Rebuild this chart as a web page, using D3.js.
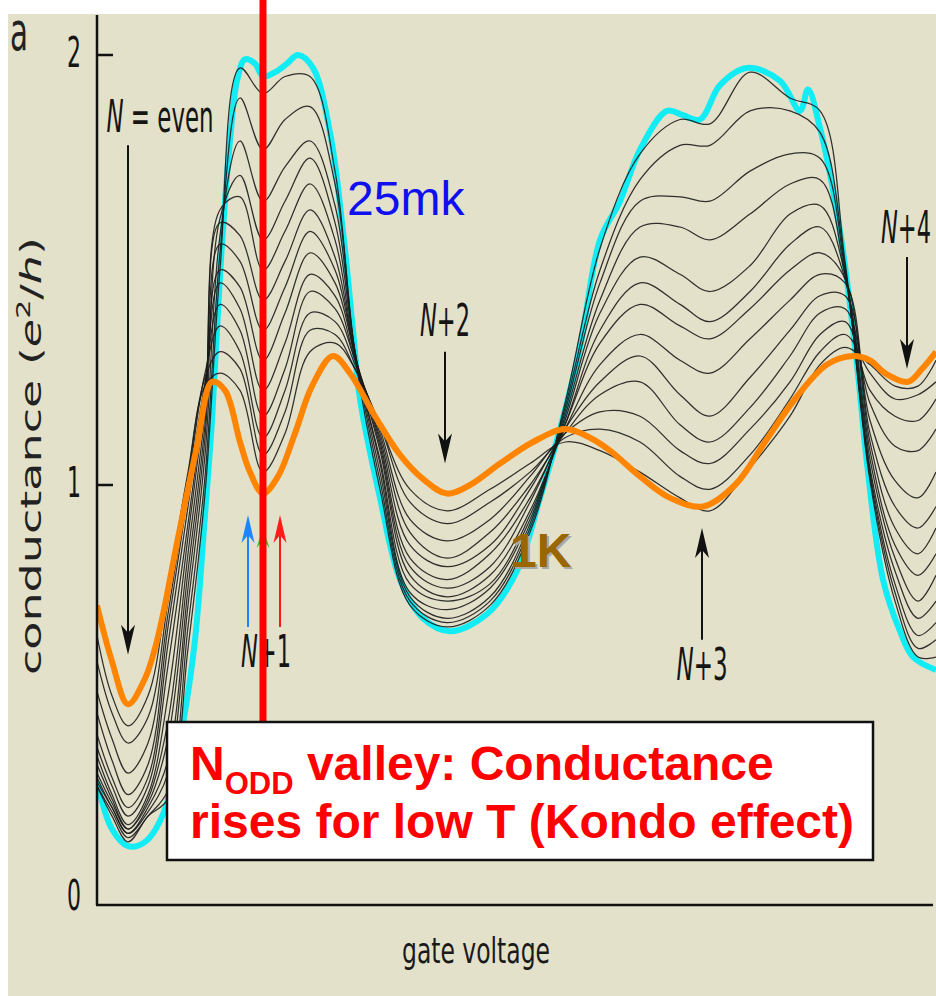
<!DOCTYPE html>
<html>
<head>
<meta charset="utf-8">
<script src="https://d3js.org/d3.v7.min.js"></script>
<style>
  body { margin: 0; background: #fff; }
  svg { display: block; }
</style>
</head>
<body>
<div id="chart"></div>
<script>
// gate voltage (arb. units) where the intermediate-temperature traces were read
var gateSteps = [0, 15, 31, 51, 71, 91, 108, 123, 143, 166, 188, 213, 238, 258, 283, 313,
                 350, 393, 433, 468, 503, 543, 583, 613, 653, 693, 723, 748, 773, 798, 821, 839];

// conductance (e^2/h) of the thin traces, lowest temperature first
var trace01 = [0.30,0.23,0.17,0.23,0.27,0.62,0.98,1.50,1.97,1.91,1.95,1.95,1.73,1.30,0.99,0.72,0.67,0.72,0.89,1.19,1.55,1.77,1.85,1.84,1.96,1.90,1.87,1.52,1.01,0.73,0.60,0.60];
var trace02 = [0.30,0.24,0.18,0.23,0.29,0.67,1.02,1.54,1.90,1.78,1.85,1.88,1.70,1.31,1.01,0.73,0.68,0.73,0.90,1.18,1.50,1.71,1.79,1.79,1.87,1.87,1.82,1.51,1.02,0.75,0.62,0.64];
var trace03 = [0.31,0.25,0.19,0.24,0.33,0.72,1.07,1.58,1.80,1.66,1.74,1.80,1.65,1.31,1.03,0.74,0.69,0.74,0.91,1.17,1.47,1.66,1.67,1.66,1.73,1.77,1.76,1.50,1.03,0.77,0.65,0.68];
var trace04 = [0.32,0.25,0.19,0.25,0.36,0.76,1.11,1.62,1.72,1.57,1.66,1.76,1.61,1.31,1.05,0.75,0.71,0.76,0.92,1.16,1.43,1.60,1.60,1.57,1.63,1.70,1.71,1.49,1.04,0.80,0.69,0.73];
var trace05 = [0.33,0.26,0.20,0.26,0.41,0.80,1.14,1.64,1.67,1.50,1.59,1.70,1.57,1.30,1.06,0.77,0.73,0.77,0.93,1.15,1.40,1.53,1.49,1.45,1.51,1.63,1.65,1.49,1.06,0.83,0.73,0.79];
var trace06 = [0.35,0.27,0.20,0.27,0.45,0.84,1.17,1.61,1.58,1.43,1.52,1.64,1.53,1.30,1.08,0.79,0.74,0.79,0.94,1.14,1.36,1.47,1.42,1.38,1.45,1.56,1.60,1.48,1.08,0.86,0.79,0.84];
var trace07 = [0.37,0.28,0.21,0.28,0.51,0.88,1.20,1.56,1.52,1.36,1.46,1.59,1.50,1.30,1.09,0.81,0.76,0.81,0.96,1.14,1.33,1.42,1.37,1.34,1.41,1.50,1.54,1.48,1.10,0.90,0.84,0.90];
var trace08 = [0.39,0.30,0.23,0.30,0.58,0.91,1.21,1.50,1.46,1.29,1.40,1.54,1.47,1.30,1.10,0.83,0.78,0.84,0.97,1.13,1.28,1.35,1.29,1.26,1.34,1.43,1.49,1.47,1.12,0.95,0.90,0.95];
var trace09 = [0.42,0.32,0.25,0.32,0.63,0.95,1.23,1.47,1.41,1.22,1.33,1.49,1.44,1.29,1.11,0.86,0.81,0.86,0.99,1.13,1.24,1.30,1.21,1.16,1.25,1.36,1.44,1.44,1.15,1.01,0.97,1.03];
var trace10 = [0.47,0.36,0.28,0.35,0.67,0.98,1.24,1.42,1.36,1.16,1.27,1.45,1.41,1.29,1.12,0.89,0.83,0.89,1.00,1.12,1.21,1.24,1.14,1.10,1.18,1.30,1.40,1.41,1.19,1.09,1.08,1.13];
var trace11 = [0.52,0.41,0.33,0.40,0.70,1.00,1.26,1.37,1.31,1.11,1.22,1.40,1.38,1.28,1.13,0.92,0.87,0.92,1.02,1.12,1.17,1.16,1.08,1.05,1.13,1.24,1.35,1.38,1.22,1.16,1.15,1.20];
var trace12 = [0.59,0.47,0.40,0.46,0.73,1.02,1.25,1.31,1.27,1.07,1.17,1.36,1.35,1.27,1.14,0.96,0.91,0.96,1.03,1.11,1.13,1.10,1.02,0.99,1.07,1.20,1.31,1.35,1.26,1.20,1.21,1.24];
var trace13 = [0.65,0.51,0.44,0.51,0.76,1.03,1.23,1.26,1.22,1.03,1.12,1.31,1.33,1.27,1.14,0.99,0.94,0.99,1.05,1.10,1.08,1.03,0.97,0.94,1.04,1.16,1.28,1.32,1.28,1.23,1.23,1.29];

// 25 mK trace
var gate25mK = [0,15,31,48,67,87,98,108,115,120,125,133,140,148,158,166,178,190,201,216,233,246,256,263,283,303,326,353,390,420,443,463,483,503,523,543,570,586,603,623,650,683,703,711,723,743,760,770,786,803,816,839];
var cond25mK = [0.31,0.20,0.16,0.17,0.24,0.46,0.64,0.93,1.15,1.36,1.56,1.80,1.94,1.99,1.98,1.95,1.96,1.98,2.00,1.97,1.82,1.59,1.36,1.20,0.97,0.78,0.69,0.66,0.70,0.80,0.97,1.13,1.32,1.57,1.66,1.78,1.87,1.86,1.85,1.93,1.97,1.94,1.87,1.92,1.83,1.59,1.28,1.05,0.78,0.66,0.60,0.57];

// 1 K trace
var gate1K = [0,15,31,48,58,67,77,83,100,115,128,143,153,166,181,198,215,236,253,278,303,328,350,373,403,436,468,493,513,543,573,606,638,668,698,730,756,773,788,811,825,839];
var cond1K = [0.72,0.59,0.49,0.55,0.62,0.71,0.83,0.90,1.09,1.24,1.22,1.10,1.03,0.98,1.02,1.12,1.23,1.30,1.26,1.16,1.07,1.01,0.98,1.00,1.05,1.10,1.13,1.11,1.08,1.02,0.97,0.95,1.00,1.10,1.20,1.28,1.30,1.29,1.26,1.24,1.27,1.31];

var yTickValues = [0, 1, 2];

var traces = [trace01, trace02, trace03, trace04, trace05, trace06, trace07,
              trace08, trace09, trace10, trace11, trace12, trace13];

var W = 936, H = 996;
var axisBottom = 905;
var narrow = "'Liberation Sans Narrow', 'DejaVu Sans Condensed', 'Roboto', sans-serif";
var arial = "'Liberation Sans', Arial, sans-serif";

var svg = d3.select("#chart").append("svg")
    .attr("width", W)
    .attr("height", H);

// beige panel
svg.append("rect")
    .attr("x", 8).attr("y", 14)
    .attr("width", W - 8).attr("height", H - 14)
    .attr("fill", "#e3e1ca");

var x = d3.scaleLinear().domain([0, 839]).range([97, 936]);
var y = d3.scaleLinear().domain([0, 2]).range([915, 55]);

svg.append("clipPath").attr("id", "plotClip")
    .append("rect").attr("x", 97).attr("y", 14).attr("width", W - 97).attr("height", H - 14);

var line = d3.line().curve(d3.curveCatmullRom.alpha(0.5));
function tracePath(gates, vals) {
    return line(vals.map(function (v, i) { return [x(gates[i]), y(v)]; }));
}

var plot = svg.append("g").attr("clip-path", "url(#plotClip)");

// 25 mK (cyan) under the thin traces
plot.append("path")
    .attr("d", tracePath(gate25mK, cond25mK))
    .attr("fill", "none")
    .attr("stroke", "#12ecf4")
    .attr("stroke-width", 6)
    .attr("stroke-linejoin", "round");

plot.selectAll(".trace")
    .data(traces)
    .join("path")
    .attr("class", "trace")
    .attr("d", function (d) { return tracePath(gateSteps, d); })
    .attr("fill", "none")
    .attr("stroke", "#1c1c1c")
    .attr("stroke-width", 1.25)
    .attr("stroke-opacity", 0.9);

// 1 K (orange) on top
plot.append("path")
    .attr("d", tracePath(gate1K, cond1K))
    .attr("fill", "none")
    .attr("stroke", "#ff8500")
    .attr("stroke-width", 6)
    .attr("stroke-linejoin", "round");

// axes
svg.append("line")
    .attr("x1", 97).attr("x2", 97).attr("y1", 15).attr("y2", axisBottom)
    .attr("stroke", "#111").attr("stroke-width", 2.5);
svg.append("line")
    .attr("x1", 96).attr("x2", 933).attr("y1", axisBottom).attr("y2", axisBottom)
    .attr("stroke", "#111").attr("stroke-width", 2.5);

svg.selectAll(".ytick")
    .data(yTickValues.filter(function (v) { return v > 0; }))
    .join("line")
    .attr("class", "ytick")
    .attr("x1", 97).attr("x2", 113)
    .attr("y1", function (d) { return y(d); })
    .attr("y2", function (d) { return y(d); })
    .attr("stroke", "#111").attr("stroke-width", 2.5);

svg.selectAll(".ylab")
    .data(yTickValues)
    .join("text")
    .attr("class", "ylab")
    .attr("x", 81)
    .attr("y", function (d) { return d === 0 ? axisBottom + 5 : y(d) + 12; })
    .attr("text-anchor", "end")
    .attr("textLength", 14)
    .attr("lengthAdjust", "spacingAndGlyphs")
    .style("font-family", narrow)
    .style("font-size", "42px")
    .attr("fill", "#151515")
    .text(function (d) { return d; });

// panel letter
svg.append("text")
    .attr("x", 10).attr("y", 50)
    .attr("textLength", 18).attr("lengthAdjust", "spacingAndGlyphs")
    .style("font-family", narrow).style("font-size", "54px")
    .attr("fill", "#222")
    .text("a");

// y axis title
var ytitle = svg.append("text")
    .attr("transform", "translate(41,456) rotate(-90)")
    .attr("text-anchor", "middle")
    .attr("textLength", 438).attr("lengthAdjust", "spacingAndGlyphs")
    .style("font-family", "'DejaVu Sans', Verdana, sans-serif")
    .style("font-size", "29px")
    .attr("fill", "#222");
ytitle.append("tspan").text("conductance (");
ytitle.append("tspan").style("font-style", "italic").text("e");
ytitle.append("tspan").attr("dy", -11).style("font-size", "19px").text("2");
ytitle.append("tspan").attr("dy", 11).text("/");
ytitle.append("tspan").style("font-style", "italic").text("h");
ytitle.append("tspan").text(")");

// x axis title
svg.append("text")
    .attr("x", 476).attr("y", 963)
    .attr("text-anchor", "middle")
    .attr("textLength", 148).attr("lengthAdjust", "spacingAndGlyphs")
    .style("font-family", narrow).style("font-size", "36px")
    .attr("fill", "#1a1a1a")
    .text("gate voltage");

// arrows
function arrow(g, from, to, color, half, len) {
    var xa = x(g), y0 = y(from), y1 = y(to);
    var dir = y1 > y0 ? 1 : -1;
    svg.append("line")
        .attr("x1", xa).attr("x2", xa)
        .attr("y1", y0).attr("y2", y1 - dir * 18)
        .attr("stroke", color).attr("stroke-width", 2);
    svg.append("path")
        .attr("d", "M" + xa + "," + y1 +
            "L" + (xa - half) + "," + (y1 - dir * len) +
            "L" + xa + "," + (y1 - dir * (len - 8)) +
            "L" + (xa + half) + "," + (y1 - dir * len) + "Z")
        .attr("fill", color);
}
arrow(31, 1.79, 0.605, "#111", 7, 30);
arrow(348, 1.31, 1.05, "#111", 7, 30);
arrow(605, 0.64, 0.90, "#111", 7, 30);
arrow(810, 1.53, 1.27, "#111", 7, 30);
arrow(151, 0.67, 0.93, "#1a86ff", 6.5, 28);
arrow(166, 0.67, 0.90, "#22cc22", 6.5, 20);
arrow(183, 0.67, 0.93, "#ff1a1a", 6.5, 28);

// N labels
function nLabel(cx, base, rest, w) {
    var t = svg.append("text")
        .attr("x", cx).attr("y", base)
        .attr("text-anchor", "middle")
        .attr("textLength", w).attr("lengthAdjust", "spacingAndGlyphs")
        .style("font-family", narrow).style("font-size", "44px")
        .style("white-space", "pre")
        .attr("fill", "#151515");
    t.append("tspan").style("font-style", "italic").text("N");
    t.append("tspan").text(rest);
}
nLabel(160, 132, " = even", 107);
nLabel(445, 336, "+2", 50);
nLabel(702, 680, "+3", 51);
nLabel(906, 243, "+4", 50);
nLabel(266, 667, "+1", 50);

// temperature labels
svg.append("text")
    .attr("x", 347).attr("y", 215)
    .style("font-family", arial).style("font-size", "48px")
    .attr("fill", "#0f0ff0")
    .text("25mk");
svg.append("text")
    .attr("x", 512).attr("y", 569)
    .style("font-family", arial).style("font-size", "48px").style("font-weight", "bold")
    .attr("fill", "#a8a8a8")
    .text("1K");
svg.append("text")
    .attr("x", 510).attr("y", 567)
    .style("font-family", arial).style("font-size", "48px").style("font-weight", "bold")
    .attr("fill", "#9a6600")
    .text("1K");

// red marker through the N+1 valley
svg.append("line")
    .attr("x1", x(166)).attr("x2", x(166))
    .attr("y1", 0).attr("y2", 722)
    .attr("stroke", "#ff0000").attr("stroke-width", 7);

// note box
svg.append("rect")
    .attr("x", 167).attr("y", 722)
    .attr("width", 706).attr("height", 138)
    .attr("fill", "#fff")
    .attr("stroke", "#111").attr("stroke-width", 2.5);

var note1 = svg.append("text")
    .attr("x", 190).attr("y", 780)
    .style("font-family", arial).style("font-size", "48px").style("font-weight", "bold")
    .style("white-space", "pre")
    .attr("fill", "#ff0000");
note1.append("tspan").text("N");
note1.append("tspan").attr("dy", 14).style("font-size", "31px").text("ODD");
note1.append("tspan").attr("dy", -14).text(" valley: Conductance");

svg.append("text")
    .attr("x", 190).attr("y", 838)
    .style("font-family", arial).style("font-size", "48px").style("font-weight", "bold")
    .attr("fill", "#ff0000")
    .text("rises for low T (Kondo effect)");
</script>
</body>
</html>
